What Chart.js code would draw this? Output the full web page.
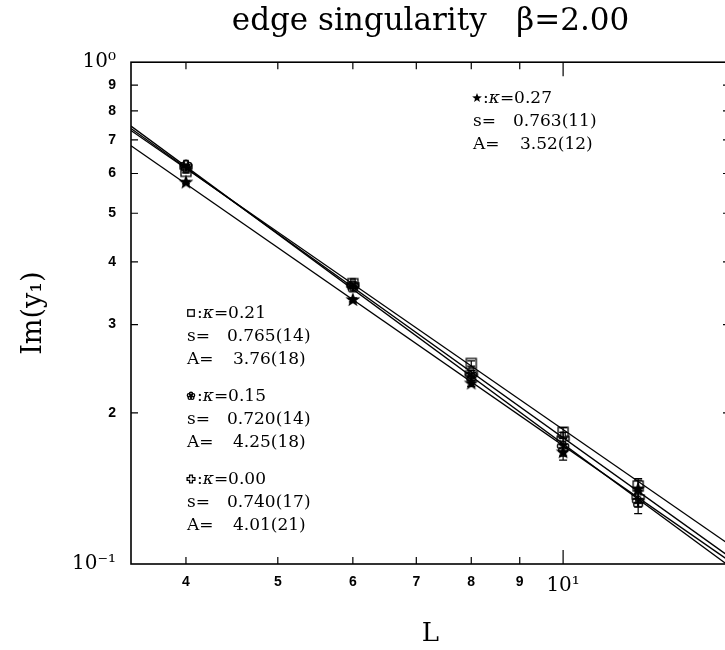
<!DOCTYPE html>
<html>
<head>
<meta charset="utf-8">
<script src="https://cdn.jsdelivr.net/npm/chart.js@4"></script>
<style>
  html, body { margin: 0; padding: 0; background: #fff; overflow: hidden; }
  #wrap { width: 738px; height: 650px; }
</style>
</head>
<body>
<div id="wrap"><canvas id="chart" width="738" height="650"></canvas></div>
<script>
// system sizes and measured Im(y1), one array per kappa
const sizes = [4, 6, 8, 10, 12];
const im027 = [0.576, 0.336, 0.229, 0.167, 0.141];
const im021 = [0.606, 0.362, 0.251, 0.183, 0.143];
const im015 = [0.621, 0.357, 0.237, 0.171, 0.133];
const im000 = [0.619, 0.360, 0.240, 0.178, 0.136];
const err027 = [0.004, 0.003, 0.003, 0.006, 0.006];
const err021 = [0.004, 0.003, 0.003, 0.004, 0.005];
const err015 = [0.004, 0.003, 0.003, 0.007, 0.007];
const err000 = [0.004, 0.003, 0.003, 0.005, 0.006];

// fitted power laws, read at the two ends of the plot
const fitL = [3.5, 15];
const fit027 = [0.6815, 0.1012];
const fit021 = [0.7310, 0.1091];
const fit015 = [0.7459, 0.0988];
const fit000 = [0.7378, 0.1032];

// fit results printed on the plot
const kappas = ["0.27", "0.21", "0.15", "0.00"];
const sVals = ["0.763(11)", "0.765(14)", "0.720(14)", "0.740(17)"];
const aVals = ["3.52(12)", "3.76(18)", "4.25(18)", "4.01(21)"];

const xTicks = [4, 5, 6, 7, 8, 9, 10];
const xLabels = ["4", "5", "6", "7", "8", "9", "10\u00b9"];
const yTicks = [0.1, 0.2, 0.3, 0.4, 0.5, 0.6, 0.7, 0.8, 0.9, 1];
const yLabels = ["10\u207b\u00b9", "2", "3", "4", "5", "6", "7", "8", "9", "10\u2070"];

// marker images
function makeMarker(kind, k) {
  const c = document.createElement("canvas");
  const n = Math.ceil(18 * k);
  c.width = n; c.height = n;
  const g = c.getContext("2d");
  const m = n / 2;
  g.strokeStyle = "#000";
  g.fillStyle = "#000";
  g.lineWidth = 1.3;
  if (kind === "star") {
    g.beginPath();
    for (let i = 0; i < 10; i++) {
      const a = -Math.PI / 2 + i * Math.PI / 5;
      const r = (i % 2 ? 3.2 : 7.8) * k;
      g.lineTo(m + r * Math.cos(a), m + r * Math.sin(a));
    }
    g.closePath();
    g.fill();
  } else if (kind === "square") {
    const h = 5 * k;
    g.strokeRect(m - h, m - h, 2 * h, 2 * h);
  } else if (kind === "flower") {
    for (let i = 0; i < 5; i++) {
      const a = -Math.PI / 2 + i * 2 * Math.PI / 5;
      g.beginPath();
      g.arc(m + 3.3 * k * Math.cos(a), m + 3.3 * k * Math.sin(a), 2.5 * k, 0, 2 * Math.PI);
      g.stroke();
    }
  } else {
    const w = 2.2 * k, l = 6 * k;
    g.beginPath();
    g.moveTo(m - w, m - l); g.lineTo(m + w, m - l); g.lineTo(m + w, m - w);
    g.lineTo(m + l, m - w); g.lineTo(m + l, m + w); g.lineTo(m + w, m + w);
    g.lineTo(m + w, m + l); g.lineTo(m - w, m + l); g.lineTo(m - w, m + w);
    g.lineTo(m - l, m + w); g.lineTo(m - l, m - w); g.lineTo(m - w, m - w);
    g.closePath();
    g.stroke();
  }
  return c;
}
const kinds = ["star", "square", "flower", "cross"];
const markers = kinds.map((k) => makeMarker(k, 1));
const smallMarkers = kinds.map((k) => makeMarker(k, 0.65));

const pts = (ys) => sizes.map((l, i) => ({ x: l, y: ys[i] }));
const line = (ys) => fitL.map((l, i) => ({ x: l, y: ys[i] }));

function fitSet(ys) {
  return { data: line(ys), showLine: true, borderColor: "#000", borderWidth: 1.3, pointRadius: 0, fill: false };
}
function pointSet(ys, errs, idx) {
  return { data: pts(ys), errors: errs, pointStyle: markers[idx], pointRadius: 7, showLine: false };
}

const frame = {
  id: "frame",
  beforeDatasetsDraw(chart) {
    const { ctx, chartArea: a, scales: { x, y } } = chart;
    ctx.save();
    ctx.strokeStyle = "#000";
    ctx.lineWidth = 1.6;
    ctx.strokeRect(a.left, a.top, a.right - a.left, a.bottom - a.top);
    ctx.lineWidth = 1.2;
    ctx.beginPath();
    x.ticks.forEach((t) => {
      const px = x.getPixelForValue(t.value);
      const len = t.major ? 14 : 7;
      ctx.moveTo(px, a.bottom); ctx.lineTo(px, a.bottom - len);
      ctx.moveTo(px, a.top); ctx.lineTo(px, a.top + len);
    });
    y.ticks.forEach((t) => {
      if (t.major) return;
      const py = y.getPixelForValue(t.value);
      ctx.moveTo(a.left, py); ctx.lineTo(a.left + 7, py);
      ctx.moveTo(a.right, py); ctx.lineTo(a.right - 7, py);
    });
    ctx.stroke();
    ctx.restore();
  }
};

const errorBars = {
  id: "errorBars",
  afterDatasetsDraw(chart) {
    const { ctx, scales: { x, y } } = chart;
    ctx.save();
    ctx.strokeStyle = "#000";
    ctx.lineWidth = 1.2;
    chart.data.datasets.forEach((ds) => {
      if (!ds.errors) return;
      ds.data.forEach((p, i) => {
        const px = x.getPixelForValue(p.x);
        const lo = y.getPixelForValue(p.y - ds.errors[i]);
        const hi = y.getPixelForValue(p.y + ds.errors[i]);
        ctx.beginPath();
        ctx.moveTo(px, lo); ctx.lineTo(px, hi);
        ctx.moveTo(px - 4, lo); ctx.lineTo(px + 4, lo);
        ctx.moveTo(px - 4, hi); ctx.lineTo(px + 4, hi);
        ctx.stroke();
      });
    });
    ctx.restore();
  }
};

const notes = {
  id: "notes",
  afterDatasetsDraw(chart) {
    const ctx = chart.ctx;
    const spots = [
      { x: 473, y: 99, vx: 513, ax: 520 },
      { x: 187, y: 314, vx: 227, ax: 233 },
      { x: 187, y: 397, vx: 227, ax: 233 },
      { x: 187, y: 480, vx: 227, ax: 233 }
    ];
    const roman = "17px 'DejaVu Serif'";
    const ital = "italic 17px 'DejaVu Serif'";
    ctx.save();
    ctx.fillStyle = "#000";
    ctx.textBaseline = "middle";
    ctx.textAlign = "left";
    spots.forEach((s, i) => {
      const img = smallMarkers[i];
      ctx.drawImage(img, s.x + 4 - img.width / 2, s.y - 1 - img.height / 2);
      let cx = s.x + 10;
      ctx.font = roman;
      ctx.fillText(":", cx, s.y);
      cx += ctx.measureText(":").width;
      ctx.font = ital;
      ctx.fillText("\u03ba", cx, s.y);
      cx += ctx.measureText("\u03ba").width;
      ctx.font = roman;
      ctx.fillText("=" + kappas[i], cx, s.y);
      ctx.fillText("s=", s.x, s.y + 23);
      ctx.fillText(sVals[i], s.vx, s.y + 23);
      ctx.fillText("A=", s.x, s.y + 46);
      ctx.fillText(aVals[i], s.ax, s.y + 46);
    });
    ctx.restore();
  }
};

const tickFont = (c) => (c.tick && c.tick.major)
  ? { family: "'DejaVu Serif'", size: 20, weight: "normal" }
  : { family: "'Liberation Sans'", size: 14, weight: "bold" };

new Chart(document.getElementById("chart"), {
  type: "scatter",
  data: {
    datasets: [
      fitSet(fit027), fitSet(fit021), fitSet(fit015), fitSet(fit000),
      pointSet(im000, err000, 3),
      pointSet(im015, err015, 2),
      pointSet(im021, err021, 1),
      pointSet(im027, err027, 0)
    ]
  },
  options: {
    responsive: false,
    animation: false,
    layout: { padding: 0 },
    plugins: {
      legend: { display: false },
      tooltip: { enabled: false },
      title: {
        display: true,
        fullSize: false,
        text: "edge singularity   \u03b2=2.00",
        color: "#000",
        font: { family: "'DejaVu Serif'", size: 31, weight: "normal" },
        padding: { top: 3, bottom: 22 }
      }
    },
    scales: {
      x: {
        type: "logarithmic",
        min: 3.5,
        max: 15,
        grid: { display: false },
        border: { display: false },
        afterBuildTicks: (s) => { s.ticks = xTicks.map((v) => ({ value: v, major: v === 10 })); },
        afterFit: (s) => { s.height = 86; },
        ticks: {
          autoSkip: false,
          maxRotation: 0,
          padding: 2,
          color: "#000",
          font: tickFont,
          callback: (v) => xLabels[xTicks.indexOf(v)]
        },
        title: {
          display: true,
          text: "L",
          color: "#000",
          font: { family: "'DejaVu Serif'", size: 26 },
          padding: { top: 0, bottom: 0 }
        }
      },
      y: {
        type: "logarithmic",
        min: 0.1,
        max: 1,
        grid: { display: false },
        border: { display: false },
        afterBuildTicks: (s) => { s.ticks = yTicks.map((v) => ({ value: v, major: v === 0.1 || v === 1 })); },
        afterFit: (s) => { s.width = 131; },
        ticks: {
          autoSkip: false,
          padding: 7,
          color: "#000",
          font: tickFont,
          callback: (v) => yLabels[yTicks.indexOf(v)]
        },
        title: {
          display: true,
          text: "Im(y\u2081)",
          color: "#000",
          font: { family: "'DejaVu Serif'", size: 27 },
          padding: { top: 18, bottom: 0 }
        }
      }
    }
  },
  plugins: [frame, errorBars, notes]
});
</script>
</body>
</html>
